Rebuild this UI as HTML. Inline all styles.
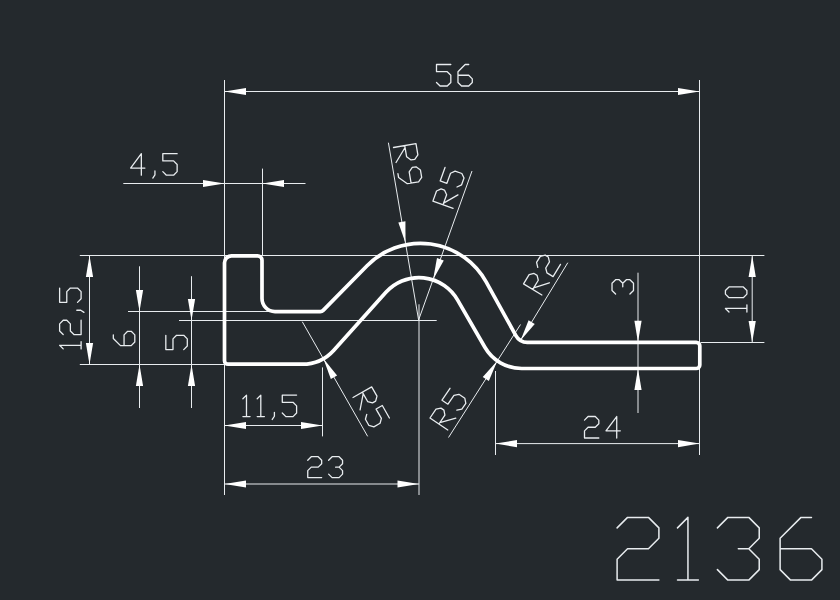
<!DOCTYPE html>
<html><head><meta charset="utf-8"><style>
html,body{margin:0;padding:0;background:#24292d;width:840px;height:600px;overflow:hidden}
svg{display:block}
</style></head><body>
<svg width="840" height="600" viewBox="0 0 840 600">
<rect width="840" height="600" fill="#24292d"/>
<line x1="224.50" y1="80.00" x2="224.50" y2="495.00" stroke="#e8ecef" stroke-width="1.0"/>
<line x1="699.50" y1="80.00" x2="699.50" y2="455.00" stroke="#e8ecef" stroke-width="1.0"/>
<line x1="79.80" y1="255.50" x2="764.40" y2="255.50" stroke="#e8ecef" stroke-width="1.0"/>
<line x1="262.50" y1="168.60" x2="262.50" y2="256.00" stroke="#e8ecef" stroke-width="1.0"/>
<line x1="79.80" y1="364.50" x2="224.50" y2="364.50" stroke="#e8ecef" stroke-width="1.0"/>
<line x1="128.00" y1="311.50" x2="320.00" y2="311.50" stroke="#e8ecef" stroke-width="1.0"/>
<line x1="179.00" y1="320.50" x2="436.70" y2="320.50" stroke="#e8ecef" stroke-width="1.0"/>
<line x1="322.50" y1="367.40" x2="322.50" y2="436.40" stroke="#e8ecef" stroke-width="1.0"/>
<line x1="419.00" y1="304.30" x2="419.00" y2="495.00" stroke="#e8ecef" stroke-width="1.0"/>
<line x1="495.50" y1="371.00" x2="495.50" y2="455.00" stroke="#e8ecef" stroke-width="1.0"/>
<line x1="700.60" y1="342.50" x2="764.40" y2="342.50" stroke="#e8ecef" stroke-width="1.0"/>
<line x1="224.50" y1="91.50" x2="699.50" y2="91.50" stroke="#e8ecef" stroke-width="1.0"/>
<polygon points="224.50,91.50 246.00,87.90 246.00,95.10" fill="#ffffff"/>
<polygon points="699.50,91.50 678.00,95.10 678.00,87.90" fill="#ffffff"/>
<path d="M450.82,64.52 L436.50,64.52 L436.50,71.68 L447.24,71.68 L450.82,75.26 L450.82,82.42 L447.24,86.00 L440.08,86.00 L436.50,82.42 M468.72,64.52 L465.14,64.52 L457.98,71.68 L457.98,82.42 L461.56,86.00 L468.72,86.00 L472.30,82.42 L472.30,78.84 L468.72,75.26 L457.98,75.26" fill="none" stroke="#e8ecef" stroke-width="1.3" stroke-linejoin="round" stroke-linecap="round"/>
<line x1="123.30" y1="183.50" x2="305.50" y2="183.50" stroke="#e8ecef" stroke-width="1.0"/>
<polygon points="224.50,183.50 203.00,187.10 203.00,179.90" fill="#ffffff"/>
<polygon points="262.50,183.50 284.00,179.90 284.00,187.10" fill="#ffffff"/>
<path d="M141.34,175.20 L141.34,153.72 L130.60,168.04 L144.92,168.04 M154.94,170.90 L154.94,174.84 L152.80,178.06 M177.14,153.72 L162.82,153.72 L162.82,160.88 L173.56,160.88 L177.14,164.46 L177.14,171.62 L173.56,175.20 L166.40,175.20 L162.82,171.62" fill="none" stroke="#e8ecef" stroke-width="1.3" stroke-linejoin="round" stroke-linecap="round"/>
<line x1="89.50" y1="255.50" x2="89.50" y2="364.50" stroke="#e8ecef" stroke-width="1.0"/>
<polygon points="89.50,255.50 93.10,277.00 85.90,277.00" fill="#ffffff"/>
<polygon points="89.50,364.50 85.90,343.00 93.10,343.00" fill="#ffffff"/>
<path d="M63.20,348.90 L59.62,345.32 L81.10,345.32 M81.10,348.90 L81.10,341.74 M63.20,334.58 L59.62,331.00 L59.62,323.84 L63.20,320.26 L66.78,320.26 L70.36,323.84 L70.36,331.00 L73.94,334.58 L81.10,334.58 L81.10,320.26 M76.80,310.24 L80.74,310.24 L83.96,312.38 M59.62,288.04 L59.62,302.36 L66.78,302.36 L66.78,291.62 L70.36,288.04 L77.52,288.04 L81.10,291.62 L81.10,298.78 L77.52,302.36" fill="none" stroke="#e8ecef" stroke-width="1.3" stroke-linejoin="round" stroke-linecap="round"/>
<line x1="139.50" y1="266.30" x2="139.50" y2="408.00" stroke="#e8ecef" stroke-width="1.0"/>
<polygon points="139.50,311.50 135.90,290.00 143.10,290.00" fill="#ffffff"/>
<polygon points="139.50,364.50 143.10,386.00 135.90,386.00" fill="#ffffff"/>
<path d="M113.32,334.86 L113.32,338.44 L120.48,345.60 L131.22,345.60 L134.80,342.02 L134.80,334.86 L131.22,331.28 L127.64,331.28 L124.06,334.86 L124.06,345.60" fill="none" stroke="#e8ecef" stroke-width="1.3" stroke-linejoin="round" stroke-linecap="round"/>
<line x1="191.50" y1="276.20" x2="191.50" y2="408.00" stroke="#e8ecef" stroke-width="1.0"/>
<polygon points="191.50,320.50 187.90,299.00 195.10,299.00" fill="#ffffff"/>
<polygon points="191.50,364.50 195.10,386.00 187.90,386.00" fill="#ffffff"/>
<path d="M165.82,335.28 L165.82,349.60 L172.98,349.60 L172.98,338.86 L176.56,335.28 L183.72,335.28 L187.30,338.86 L187.30,346.02 L183.72,349.60" fill="none" stroke="#e8ecef" stroke-width="1.3" stroke-linejoin="round" stroke-linecap="round"/>
<line x1="224.50" y1="425.50" x2="322.50" y2="425.50" stroke="#e8ecef" stroke-width="1.0"/>
<polygon points="224.50,425.50 246.00,421.90 246.00,429.10" fill="#ffffff"/>
<polygon points="322.50,425.50 301.00,429.10 301.00,421.90" fill="#ffffff"/>
<path d="M242.90,398.70 L246.48,395.12 L246.48,416.60 M242.90,416.60 L250.06,416.60 M257.22,398.70 L260.80,395.12 L260.80,416.60 M257.22,416.60 L264.38,416.60 M274.40,412.30 L274.40,416.24 L272.26,419.46 M296.60,395.12 L282.28,395.12 L282.28,402.28 L293.02,402.28 L296.60,405.86 L296.60,413.02 L293.02,416.60 L285.86,416.60 L282.28,413.02" fill="none" stroke="#e8ecef" stroke-width="1.3" stroke-linejoin="round" stroke-linecap="round"/>
<line x1="224.50" y1="484.00" x2="419.00" y2="484.00" stroke="#e8ecef" stroke-width="1.0"/>
<polygon points="224.50,484.00 246.00,480.40 246.00,487.60" fill="#ffffff"/>
<polygon points="419.00,484.00 397.50,487.60 397.50,480.40" fill="#ffffff"/>
<path d="M307.75,460.20 L311.23,456.72 L318.19,456.72 L321.67,460.20 L321.67,463.68 L318.19,467.16 L311.23,467.16 L307.75,470.64 L307.75,477.60 L321.67,477.60 M328.63,460.20 L332.11,456.72 L339.07,456.72 L342.55,460.20 L342.55,463.68 L339.07,467.16 L342.55,470.64 L342.55,474.12 L339.07,477.60 L332.11,477.60 L328.63,474.12 M339.07,467.16 L335.59,467.16" fill="none" stroke="#e8ecef" stroke-width="1.3" stroke-linejoin="round" stroke-linecap="round"/>
<line x1="495.50" y1="443.60" x2="699.50" y2="443.60" stroke="#e8ecef" stroke-width="1.0"/>
<polygon points="495.50,443.60 517.00,440.00 517.00,447.20" fill="#ffffff"/>
<polygon points="699.50,443.60 678.00,447.20 678.00,440.00" fill="#ffffff"/>
<path d="M584.50,420.10 L588.08,416.52 L595.24,416.52 L598.82,420.10 L598.82,423.68 L595.24,427.26 L588.08,427.26 L584.50,430.84 L584.50,438.00 L598.82,438.00 M616.72,438.00 L616.72,416.52 L605.98,430.84 L620.30,430.84" fill="none" stroke="#e8ecef" stroke-width="1.3" stroke-linejoin="round" stroke-linecap="round"/>
<line x1="638.00" y1="272.70" x2="638.00" y2="413.00" stroke="#e8ecef" stroke-width="1.0"/>
<polygon points="638.00,342.30 634.40,320.80 641.60,320.80" fill="#ffffff"/>
<polygon points="638.00,368.50 641.60,390.00 634.40,390.00" fill="#ffffff"/>
<path d="M615.60,294.00 L612.02,290.42 L612.02,283.26 L615.60,279.68 L619.18,279.68 L622.76,283.26 L626.34,279.68 L629.92,279.68 L633.50,283.26 L633.50,290.42 L629.92,294.00 M622.76,283.26 L622.76,286.84" fill="none" stroke="#e8ecef" stroke-width="1.3" stroke-linejoin="round" stroke-linecap="round"/>
<line x1="752.20" y1="255.50" x2="752.20" y2="342.50" stroke="#e8ecef" stroke-width="1.0"/>
<polygon points="752.20,255.50 755.80,277.00 748.60,277.00" fill="#ffffff"/>
<polygon points="752.20,342.50 748.60,321.00 755.80,321.00" fill="#ffffff"/>
<path d="M729.00,312.00 L725.42,308.42 L746.90,308.42 M746.90,312.00 L746.90,304.84 M746.90,294.10 L746.90,290.52 L743.32,286.94 L729.00,286.94 L725.42,290.52 L725.42,294.10 L729.00,297.68 L743.32,297.68 L746.90,294.10" fill="none" stroke="#e8ecef" stroke-width="1.3" stroke-linejoin="round" stroke-linecap="round"/>
<line x1="388.40" y1="142.70" x2="418.60" y2="320.00" stroke="#e8ecef" stroke-width="1.0"/>
<polygon points="405.50,243.11 398.34,222.52 405.44,221.31" fill="#ffffff"/>
<path d="M393.50,147.50 L415.98,143.70 L417.88,154.94 L414.77,159.32 L411.02,159.95 L406.64,156.84 L404.74,145.60 M405.06,147.47 L396.03,162.49 M397.94,173.73 L398.57,177.47 L407.33,183.70 L418.57,181.80 L421.68,177.42 L420.42,169.93 L416.04,166.81 L412.29,167.45 L409.18,171.83 L411.08,183.07" fill="none" stroke="#e8ecef" stroke-width="1.3" stroke-linejoin="round" stroke-linecap="round"/>
<line x1="472.00" y1="171.00" x2="418.60" y2="320.00" stroke="#e8ecef" stroke-width="1.0"/>
<polygon points="433.11,279.52 436.97,258.07 443.75,260.50" fill="#ffffff"/>
<path d="M453.10,208.40 L432.89,201.12 L436.53,191.02 L441.11,188.86 L444.48,190.08 L446.63,194.66 L442.99,204.76 M443.60,203.08 L457.95,194.93 M445.02,167.44 L440.17,180.91 L446.90,183.34 L450.54,173.23 L455.12,171.08 L461.86,173.50 L464.01,178.08 L461.59,184.82 L457.01,186.98" fill="none" stroke="#e8ecef" stroke-width="1.3" stroke-linejoin="round" stroke-linecap="round"/>
<line x1="302.27" y1="321.70" x2="367.67" y2="436.36" stroke="#e8ecef" stroke-width="1.0"/>
<polygon points="323.33,358.62 337.11,375.51 330.85,379.08" fill="#ffffff"/>
<path d="M353.00,397.50 L371.66,386.86 L376.98,396.19 L375.64,401.07 L372.53,402.84 L367.65,401.51 L362.33,392.18 M363.22,393.73 L360.09,409.94 M389.40,417.95 L382.30,405.52 L376.08,409.06 L381.40,418.39 L380.07,423.28 L373.85,426.82 L368.96,425.49 L365.42,419.27 L366.75,414.38" fill="none" stroke="#e8ecef" stroke-width="1.3" stroke-linejoin="round" stroke-linecap="round"/>
<line x1="448.51" y1="437.50" x2="520.50" y2="324.50" stroke="#e8ecef" stroke-width="1.0"/>
<polygon points="497.35,360.84 488.83,380.91 482.76,377.04" fill="#ffffff"/>
<path d="M447.80,430.00 L429.99,417.99 L436.00,409.08 L440.97,408.12 L443.94,410.12 L444.90,415.09 L438.90,423.99 M439.90,422.51 L455.81,418.13 M450.01,388.31 L442.00,400.18 L447.94,404.18 L453.95,395.28 L458.92,394.31 L464.85,398.32 L465.82,403.29 L461.81,409.22 L456.84,410.19" fill="none" stroke="#e8ecef" stroke-width="1.3" stroke-linejoin="round" stroke-linecap="round"/>
<line x1="520.49" y1="340.41" x2="567.80" y2="262.70" stroke="#e8ecef" stroke-width="1.0"/>
<polygon points="520.49,340.41 528.59,320.17 534.74,323.91" fill="#ffffff"/>
<path d="M541.90,295.00 L523.55,283.84 L529.13,274.66 L534.04,273.46 L537.10,275.32 L538.30,280.24 L532.72,289.42 M533.65,287.89 L549.34,282.76 M537.76,267.35 L536.57,262.43 L540.29,256.31 L545.20,255.11 L548.26,256.97 L549.46,261.89 L545.74,268.01 L546.94,272.93 L553.06,276.65 L560.50,264.41" fill="none" stroke="#e8ecef" stroke-width="1.3" stroke-linejoin="round" stroke-linecap="round"/>
<path d="M617.10,527.85 L627.55,517.40 L648.45,517.40 L658.90,527.85 L658.90,538.30 L648.45,548.75 L627.55,548.75 L617.10,559.20 L617.10,580.10 L658.90,580.10 M677.50,527.85 L687.95,517.40 L687.95,580.10 M677.50,580.10 L698.40,580.10 M717.42,527.85 L727.87,517.40 L748.77,517.40 L759.22,527.85 L759.22,538.30 L748.77,548.75 L759.22,559.20 L759.22,569.65 L748.77,580.10 L727.87,580.10 L717.42,569.65 M748.77,548.75 L738.32,548.75 M811.47,517.40 L801.02,517.40 L780.12,538.30 L780.12,569.65 L790.57,580.10 L811.47,580.10 L821.92,569.65 L821.92,559.20 L811.47,548.75 L780.12,548.75" fill="none" stroke="#e8ecef" stroke-width="1.5" stroke-linejoin="round" stroke-linecap="round"/>
<path d="M224.50,360.70 L224.50,262.80 A7.00,7.00 0 0 1 231.50,255.80 L257.50,255.80 A4.50,4.50 0 0 1 262.00,260.30 L262.00,298.60 A13.00,13.00 0 0 0 275.00,311.60 L320.33,311.60 A4.00,4.00 0 0 0 323.18,310.40 L367.06,265.76 A75.00,75.00 0 0 1 486.15,281.97 L515.88,335.60 A13.00,13.00 0 0 0 527.25,342.30 L696.30,342.30 A3.50,3.50 0 0 1 699.80,345.80 L699.80,365.00 A3.50,3.50 0 0 1 696.30,368.50 L521.69,368.50 A42.50,42.50 0 0 1 484.88,347.25 L457.52,299.85 A44.50,44.50 0 0 0 385.91,292.33 L333.85,350.14 A42.50,42.50 0 0 1 302.27,364.20 L228.00,364.20 A3.50,3.50 0 0 1 224.50,360.70 Z" fill="none" stroke="#ffffff" stroke-width="3.7" stroke-linejoin="round"/>
</svg>
</body></html>
